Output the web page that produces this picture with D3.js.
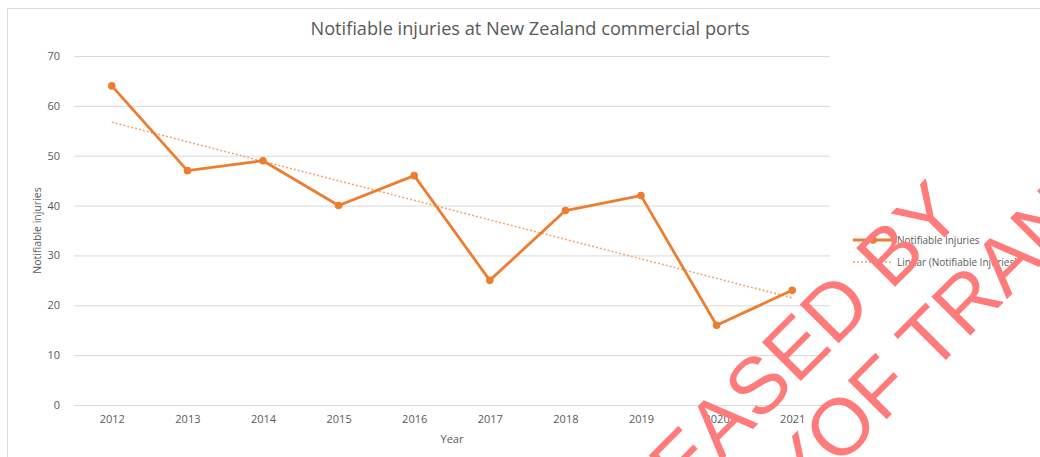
<!DOCTYPE html>
<html>
<head>
<meta charset="utf-8">
<script src="https://cdn.jsdelivr.net/npm/d3@7/dist/d3.min.js"></script>
<style>
  html, body { margin: 0; padding: 0; background: #ffffff; }
  svg { display: block; }
</style>
</head>
<body>
<svg id="chart" width="1040" height="457"></svg>
<script>
// ---- data ----
const years = ["2012","2013","2014","2015","2016","2017","2018","2019","2020","2021"];
const injuries = [64, 47, 49, 40, 46, 25, 39, 42, 16, 23];
const trendYears = ["2012", "2021"];
const trendValues = [56.7, 21.5];   // Linear (Notifiable Injuries) at the ends
const yTicks = [0, 10, 20, 30, 40, 50, 60, 70];
const legendLabels = ["Notifiable Injuries", "Linear (Notifiable Injuries)"];
const titleText = "Notifiable injuries at New Zealand commercial ports";
const xTitle = "Year";
const yTitle = "Notifiable injuries";
const watermarkLines = ["RELEASED BY", "MINISTRY ", "OF TRANSPORT"];

// ---- layout ----
const W = 1040, H = 457;
const plot = { left: 74, right: 830, top: 56, bottom: 405 };
const font = "'Open Sans', Lato, sans-serif";
const textColor = "#595959";
const lineColor = "#ED7D31";
const trendColor = "#F1A570";

const svg = d3.select("#chart");

// chart frame
svg.append("rect")
  .attr("x", 7.5).attr("y", 8.5)
  .attr("width", W).attr("height", H)
  .attr("fill", "#fff").attr("stroke", "#dcdcdc").attr("stroke-width", 1);

const x = d3.scalePoint().domain(years).range([plot.left, plot.right]).padding(0.5);
const y = d3.scaleLinear().domain([0, 70]).range([plot.bottom, plot.top]);

// y axis with gridlines
const yAxis = svg.append("g")
  .attr("transform", `translate(${plot.left},0)`)
  .call(d3.axisLeft(y).tickValues(yTicks).tickSize(-(plot.right - plot.left)).tickPadding(14));
yAxis.select(".domain").remove();
yAxis.selectAll(".tick line").attr("stroke", "#d9d9d9").attr("stroke-width", 1);
yAxis.selectAll(".tick text").attr("fill", textColor).style("font-family", font).style("font-size", "11px");

// x axis
const xAxis = svg.append("g")
  .attr("transform", `translate(0,${plot.bottom})`)
  .call(d3.axisBottom(x).tickSize(0).tickPadding(10));
xAxis.select(".domain").remove();
xAxis.selectAll(".tick text").attr("fill", textColor).style("font-family", font).style("font-size", "11px");

// title
svg.append("text")
  .attr("x", 530).attr("y", 35)
  .attr("text-anchor", "middle")
  .attr("fill", textColor)
  .style("font-family", font).style("font-size", "18.2px")
  .text(titleText);

// axis titles
svg.append("text")
  .attr("x", (plot.left + plot.right) / 2).attr("y", 443)
  .attr("text-anchor", "middle").attr("fill", textColor)
  .style("font-family", font).style("font-size", "11px")
  .text(xTitle);
svg.append("text")
  .attr("transform", `translate(41,${(plot.top + plot.bottom) / 2}) rotate(-90)`)
  .attr("text-anchor", "middle").attr("fill", textColor)
  .style("font-family", font).style("font-size", "10.5px")
  .text(yTitle);

// trend line
const trendData = trendYears.map((d, i) => ({ year: d, v: trendValues[i] }));
svg.append("path")
  .datum(trendData)
  .attr("fill", "none")
  .attr("stroke", trendColor)
  .attr("stroke-width", 1.6)
  .attr("stroke-dasharray", "2,2")
  .attr("d", d3.line().x(d => x(d.year)).y(d => y(d.v)));

// data line
const data = years.map((d, i) => ({ year: d, v: injuries[i] }));
svg.append("path")
  .datum(data)
  .attr("fill", "none")
  .attr("stroke", lineColor)
  .attr("stroke-width", 2.8)
  .attr("stroke-linejoin", "round")
  .attr("d", d3.line().x(d => x(d.year)).y(d => y(d.v)));
svg.selectAll("circle.pt")
  .data(data).enter().append("circle")
  .attr("class", "pt")
  .attr("cx", d => x(d.year)).attr("cy", d => y(d.v))
  .attr("r", 3.8).attr("fill", lineColor);

// legend
const lg = svg.append("g").attr("transform", "translate(853,0)");
lg.append("line").attr("x1", 0).attr("x2", 40).attr("y1", 240).attr("y2", 240)
  .attr("stroke", lineColor).attr("stroke-width", 2.8);
lg.append("circle").attr("cx", 20).attr("cy", 240).attr("r", 3.8).attr("fill", lineColor);
lg.append("line").attr("x1", 0).attr("x2", 38).attr("y1", 262).attr("y2", 262)
  .attr("stroke", trendColor).attr("stroke-width", 1.6).attr("stroke-dasharray", "2,2");
lg.selectAll("text.lt").data(legendLabels).enter().append("text")
  .attr("class", "lt")
  .attr("x", 44).attr("y", (d, i) => 243.5 + i * 22)
  .attr("fill", textColor)
  .style("font-family", font).style("font-size", "10px")
  .text(d => d);

// watermark
const wm = svg.append("g").attr("fill", "#ff7b7b")
  .style("font-family", "'Liberation Sans', Arial, sans-serif").style("font-size", "80px");
wm.append("text")
  .attr("transform", "translate(966,216) rotate(-45)")
  .attr("text-anchor", "end")
  .text(watermarkLines[0]);
wm.append("text")
  .attr("transform", "translate(838,468) rotate(-45)")
  .attr("text-anchor", "end")
  .text(watermarkLines[1]);
wm.append("text")
  .attr("transform", "translate(838,468) rotate(-45)")
  .attr("text-anchor", "start")
  .text(watermarkLines[2]);
</script>
</body>
</html>
